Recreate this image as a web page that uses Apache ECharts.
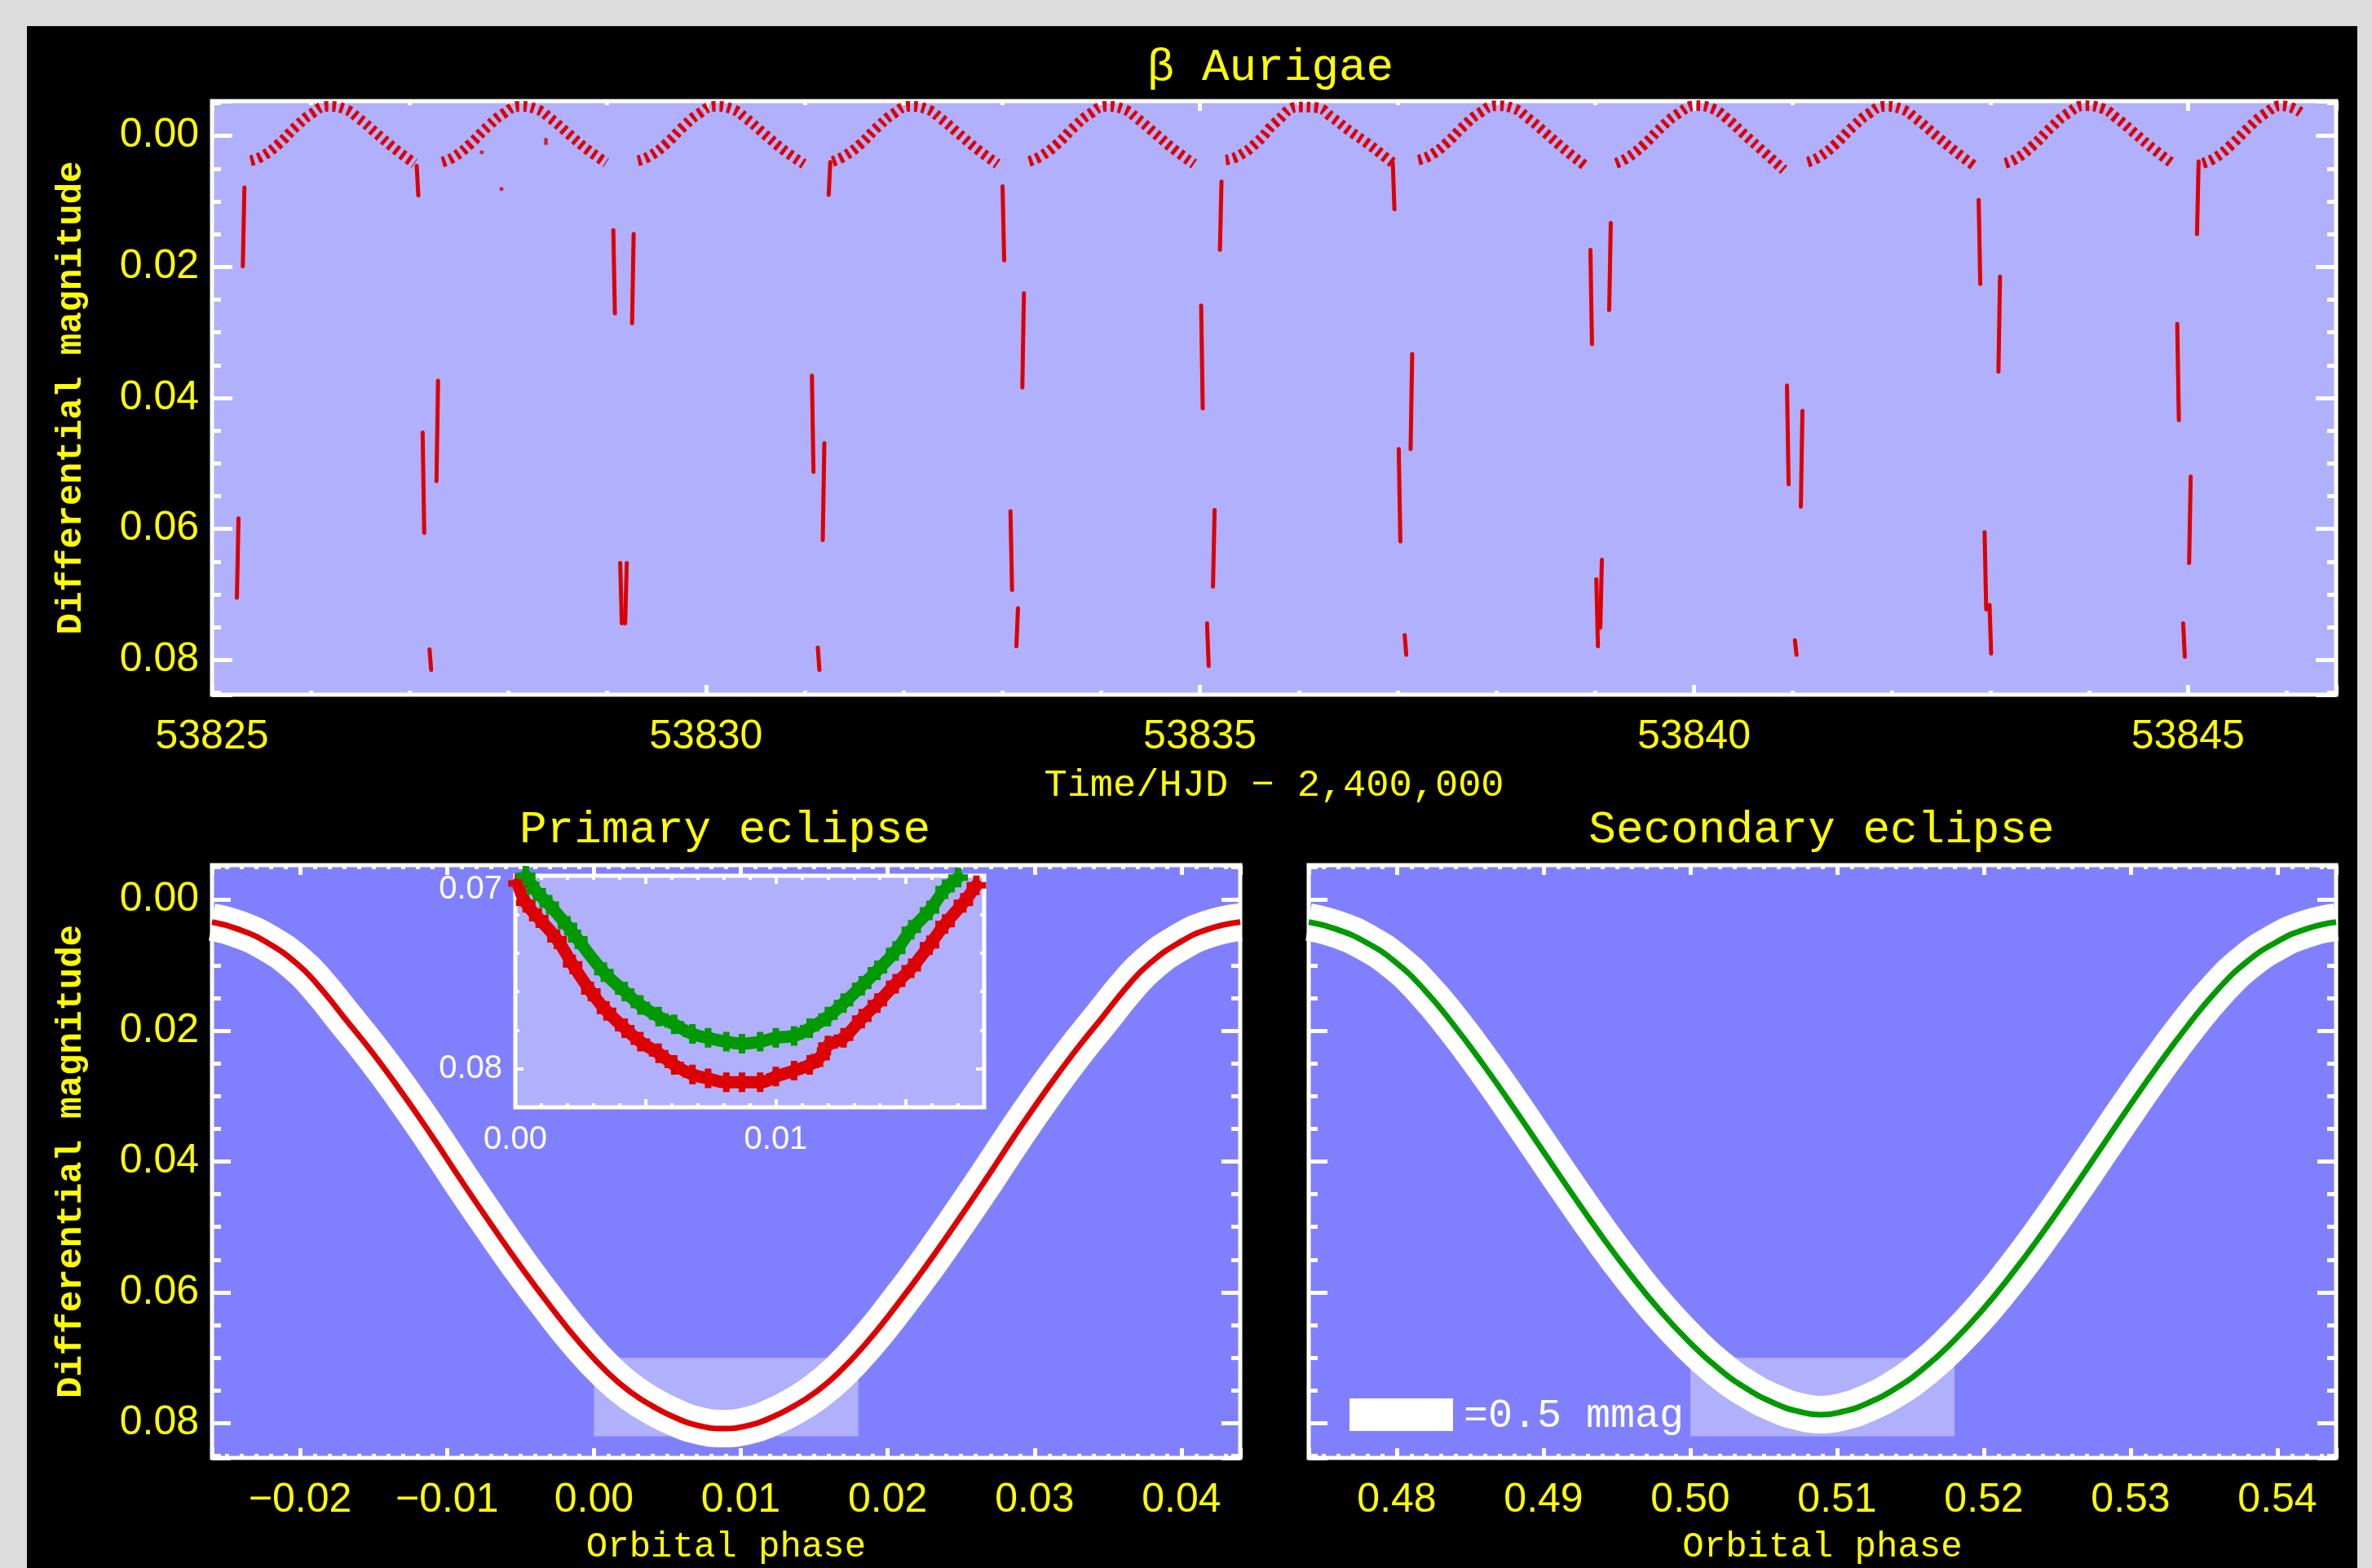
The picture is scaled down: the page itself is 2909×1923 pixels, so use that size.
<!DOCTYPE html>
<html><head><meta charset="utf-8">
<script src="https://cdn.jsdelivr.net/npm/echarts@6.0.0/dist/echarts.min.js"></script>
<style>html,body{margin:0;padding:0;background:#dcdcdc;}#c{width:2909px;height:1923px;}</style>
</head><body><div id="c"></div>
<script>
// ---------------- data ----------------
const topTimeTicks = [53825, 53830, 53835, 53840, 53845];
const topTimeLabels = ['53825', '53830', '53835', '53840', '53845'];
const magTicks = [0, 0.02, 0.04, 0.06, 0.08];
const magLabels = ['0.00', '0.02', '0.04', '0.06', '0.08'];
const primaryPhaseTicks = [-0.02, -0.01, 0, 0.01, 0.02, 0.03, 0.04];
const primaryPhaseLabels = ['\u22120.02', '\u22120.01', '0.00', '0.01', '0.02', '0.03', '0.04'];
const secondaryPhaseTicks = [0.48, 0.49, 0.50, 0.51, 0.52, 0.53, 0.54];
const secondaryPhaseLabels = ['0.48', '0.49', '0.50', '0.51', '0.52', '0.53', '0.54'];
const insetPhaseTicks = [0, 0.01];
const insetPhaseLabels = ['0.00', '0.01'];
const insetMagTicks = [0.07, 0.08];
const insetMagLabels = ['0.07', '0.08'];

// out-of-eclipse stretches of the time series [HJD-2400000, mag]
const arc1 = [[53825.39,0.0038],[53825.51,0.0031],[53825.67,0.0013],[53825.85,-0.0014],[53826.01,-0.0034],[53826.17,-0.0045],[53826.34,-0.0041],[53826.49,-0.0026],[53826.67,-0.0003],[53826.86,0.0021],[53827.05,0.0042]];
const arc2 = [[53827.33,0.0040],[53827.45,0.0032],[53827.61,0.0013],[53827.79,-0.0014],[53827.95,-0.0034],[53828.11,-0.0045],[53828.28,-0.0041],[53828.43,-0.0026],[53828.61,-0.0003],[53828.80,0.0021],[53828.99,0.0041]];
const arc3 = [[53829.31,0.0038],[53829.43,0.0031],[53829.59,0.0013],[53829.77,-0.0014],[53829.93,-0.0034],[53830.09,-0.0045],[53830.26,-0.0041],[53830.41,-0.0026],[53830.59,-0.0003],[53830.78,0.0021],[53830.99,0.0043]];
const arc4 = [[53831.28,0.0039],[53831.40,0.0031],[53831.56,0.0013],[53831.74,-0.0014],[53831.90,-0.0034],[53832.06,-0.0045],[53832.23,-0.0041],[53832.38,-0.0026],[53832.56,-0.0003],[53832.75,0.0021],[53832.95,0.0043]];
const arc5 = [[53833.27,0.0039],[53833.39,0.0031],[53833.55,0.0013],[53833.73,-0.0014],[53833.89,-0.0034],[53834.05,-0.0045],[53834.22,-0.0041],[53834.37,-0.0026],[53834.55,-0.0003],[53834.74,0.0021],[53834.94,0.0043]];
const arc6 = [[53835.26,0.0037],[53835.40,0.0030],[53835.59,0.0008],[53835.77,-0.0021],[53836.00,-0.0044],[53836.18,-0.0043],[53836.33,-0.0029],[53836.51,-0.0008],[53836.70,0.0012],[53836.88,0.0033],[53836.95,0.0041]];
const arc7 = [[53837.21,0.0037],[53837.33,0.0030],[53837.49,0.0012],[53837.67,-0.0015],[53837.83,-0.0035],[53838.00,-0.0046],[53838.17,-0.0042],[53838.32,-0.0027],[53838.50,-0.0004],[53838.70,0.0022],[53838.90,0.0046]];
const arc8 = [[53839.21,0.0042],[53839.33,0.0033],[53839.49,0.0014],[53839.67,-0.0013],[53839.84,-0.0034],[53840.02,-0.0046],[53840.18,-0.0042],[53840.33,-0.0027],[53840.51,-0.0002],[53840.71,0.0025],[53840.91,0.0052]];
const arc9 = [[53841.15,0.0040],[53841.27,0.0032],[53841.43,0.0013],[53841.61,-0.0014],[53841.77,-0.0034],[53841.93,-0.0045],[53842.10,-0.0041],[53842.25,-0.0026],[53842.43,-0.0003],[53842.63,0.0022],[53842.84,0.0046]];
const arc10 = [[53843.15,0.0042],[53843.27,0.0034],[53843.43,0.0015],[53843.61,-0.0012],[53843.78,-0.0034],[53843.96,-0.0046],[53844.13,-0.0042],[53844.28,-0.0027],[53844.46,-0.0004],[53844.65,0.0020],[53844.84,0.0042]];
const arc11 = [[53845.15,0.0042],[53845.27,0.0034],[53845.43,0.0015],[53845.61,-0.0012],[53845.78,-0.0034],[53845.95,-0.0046],[53846.14,-0.0036]];
const quietArcs = [arc1, arc2, arc3, arc4, arc5, arc6, arc7, arc8, arc9, arc10, arc11];

// in-eclipse orbit chunks [t start, mag start, t end, mag end]
const eclipseStreaks = [
  [53825.252,0.0705,53825.268,0.0584],[53825.312,0.0199,53825.328,0.0079],
  [53827.072,0.0046,53827.088,0.0091],[53827.132,0.0453,53827.148,0.0606],[53827.202,0.0784,53827.218,0.0815],[53827.272,0.0527,53827.288,0.0374],
  [53829.062,0.0144,53829.078,0.0271],[53829.132,0.0652,53829.148,0.0744],[53829.182,0.0744,53829.198,0.0652],[53829.252,0.0286,53829.268,0.0150],
  [53831.072,0.0366,53831.088,0.0513],[53831.132,0.0781,53831.148,0.0815],[53831.182,0.0617,53831.198,0.0469],[53831.242,0.0090,53831.258,0.0040],
  [53833.002,0.0077,53833.018,0.0190],[53833.082,0.0573,53833.098,0.0693],[53833.142,0.0779,53833.158,0.0721],[53833.202,0.0384,53833.218,0.0240],
  [53835.012,0.0259,53835.028,0.0416],[53835.072,0.0744,53835.088,0.0809],[53835.132,0.0688,53835.148,0.0571],[53835.202,0.0174,53835.218,0.0070],
  [53836.952,0.0041,53836.968,0.0112],[53837.012,0.0478,53837.028,0.0619],[53837.072,0.0762,53837.088,0.0792],[53837.132,0.0478,53837.148,0.0333],
  [53838.952,0.0174,53838.968,0.0318],[53839.012,0.0677,53839.028,0.0779],[53839.052,0.0751,53839.068,0.0647],[53839.142,0.0266,53839.158,0.0133],
  [53840.942,0.0381,53840.958,0.0532],[53841.022,0.0770,53841.038,0.0792],[53841.082,0.0566,53841.098,0.0420],
  [53842.882,0.0098,53842.898,0.0226],[53842.942,0.0605,53842.958,0.0723],[53842.992,0.0716,53843.008,0.0790],[53843.082,0.0360,53843.098,0.0215],
  [53844.892,0.0287,53844.908,0.0434],[53844.952,0.0744,53844.968,0.0795],[53845.012,0.0652,53845.028,0.0520],[53845.092,0.0150,53845.108,0.0039]
];
const strayPoints = [[53827.73,0.0025],[53827.93,0.0081],[53828.38,0.0006],[53828.38,0.0011]];

// primary eclipse, phase-folded
const primaryPhase = [-0.0260,-0.0242,-0.0222,-0.0202,-0.0188,-0.0170,-0.0150,-0.0130,-0.0110,-0.0090,-0.0070,-0.0050,-0.0030,-0.0010,0.0010,0.0026,0.0040,0.0055,0.0070,0.0088,0.0106,0.0121,0.0136,0.0150,0.0166,0.0186,0.0206,0.0226,0.0246,0.0266,0.0286,0.0306,0.0326,0.0346,0.0364,0.0378,0.0398,0.0418,0.0440];
const primaryMag   = [0.0034,0.0045,0.0066,0.0098,0.0130,0.0180,0.0236,0.0297,0.0362,0.0430,0.0496,0.0560,0.0620,0.0676,0.0724,0.0754,0.0774,0.0791,0.0803,0.0808,0.0803,0.0791,0.0774,0.0754,0.0724,0.0676,0.0620,0.0560,0.0496,0.0430,0.0362,0.0297,0.0236,0.0180,0.0130,0.0098,0.0066,0.0045,0.0034];
// secondary eclipse, phase-folded
const secondaryPhase = [0.4740,0.4759,0.4779,0.4799,0.4819,0.4839,0.4859,0.4879,0.4899,0.4919,0.4939,0.4959,0.4979,0.4999,0.5019,0.5039,0.5059,0.5074,0.5089,0.5104,0.5119,0.5139,0.5159,0.5179,0.5199,0.5219,0.5239,0.5259,0.5279,0.5299,0.5319,0.5339,0.5359,0.5379,0.5399,0.5419,0.5440];
const secondaryMag   = [0.0034,0.0045,0.0065,0.0095,0.0138,0.0192,0.0252,0.0316,0.0382,0.0448,0.0512,0.0572,0.0627,0.0675,0.0716,0.0748,0.0771,0.0782,0.0787,0.0782,0.0771,0.0748,0.0716,0.0675,0.0627,0.0572,0.0512,0.0448,0.0382,0.0316,0.0252,0.0192,0.0138,0.0095,0.0065,0.0045,0.0034];
// zoomed inset: both eclipse bottoms (secondary shifted by -0.5 in phase)
const insetPrimaryPhase = [0.0001,0.0004,0.0009,0.0016,0.0022,0.0029,0.0035,0.0042,0.0048,0.0055,0.0061,0.0068,0.0074,0.0081,0.0087,0.0094,0.0100,0.0107,0.0113,0.0117,0.0120,0.0126,0.0133,0.0139,0.0146,0.0152,0.0159,0.0165,0.0172,0.0177];
const insetPrimaryMag   = [0.0704,0.0714,0.0722,0.0733,0.0746,0.0760,0.0770,0.0779,0.0786,0.0792,0.0798,0.0803,0.0805,0.0807,0.0807,0.0807,0.0804,0.0801,0.0798,0.0794,0.0788,0.0784,0.0774,0.0766,0.0756,0.0748,0.0736,0.0725,0.0714,0.0705];
const insetSecondaryPhase = [0.0004,0.0008,0.0013,0.0020,0.0024,0.0034,0.0042,0.0048,0.0055,0.0061,0.0068,0.0074,0.0081,0.0087,0.0094,0.0100,0.0107,0.0113,0.0120,0.0126,0.0133,0.0139,0.0146,0.0152,0.0159,0.0165,0.0170];
const insetSecondaryMag   = [0.0700,0.0708,0.0715,0.0726,0.0733,0.0750,0.0760,0.0767,0.0773,0.0777,0.0782,0.0784,0.0786,0.0787,0.0786,0.0784,0.0783,0.0779,0.0773,0.0766,0.0757,0.0749,0.0739,0.0728,0.0718,0.0707,0.0701];
// zoom windows [phase0, mag0, phase1, mag1]
const zoomBoxPrimary = [0.000, 0.070, 0.018, 0.082];
const zoomBoxSecondary = [0.500, 0.070, 0.518, 0.082];

// ---------------- styling ----------------
const RED = '#dd0000', GREEN = '#009a00', YELLOW = '#ffff00', WHITE = '#ffffff';
const LIGHT = '#b0b0fc', MID = '#8080ff', OUTER = '#dcdcdc';
const TICKFONT = 'Liberation Sans', TEXTFONT = 'Liberation Mono';

function zip(a, b) { return a.map((v, i) => [v, b[i]]); }
function labeler(ticks, labels, richKey) {
  return v => {
    for (let i = 0; i < ticks.length; i++) {
      if (Math.abs(v - ticks[i]) < 1e-7) {
        return (richKey && richKey[i]) ? '{' + richKey[i] + '|' + labels[i] + '}' : labels[i];
      }
    }
    return '';
  };
}

const grid = [
  {left: 260, top: 124, width: 2605, height: 728, show: true, backgroundColor: LIGHT, borderColor: WHITE, borderWidth: 5},
  {left: 260, top: 1061, width: 1261, height: 727, show: true, backgroundColor: MID, borderColor: WHITE, borderWidth: 5},
  {left: 1605, top: 1061, width: 1260, height: 727, show: true, backgroundColor: MID, borderColor: WHITE, borderWidth: 5},
  {left: 632, top: 1074, width: 575, height: 284, show: true, backgroundColor: LIGHT, borderColor: WHITE, borderWidth: 5}
];

const xAxis = [], yAxis = [];
function addAxes(list, gridIndex, positions, spec) {
  const first = list.length;
  positions.forEach((pos, k) => {
    const base = {type: 'value', gridIndex: gridIndex, position: pos, offset: 0, min: spec.min, max: spec.max,
      inverse: !!spec.inverse, axisLine: {show: false, onZero: false}, splitLine: {show: false},
      axisPointer: {show: false}, silent: true};
    const major = Object.assign({}, base, spec.major, {
      axisTick: {show: true, inside: true, length: spec.majorLen, lineStyle: {color: WHITE, width: spec.tw || 5}},
      axisLabel: {show: false}});
    if (k === 0 && spec.label) major.axisLabel = spec.label;
    if (k === 0 && spec.name) Object.assign(major, spec.name);
    list.push(major);
    list.push(Object.assign({}, base, spec.minor, {
      axisTick: {show: true, inside: true, length: spec.minorLen, lineStyle: {color: WHITE, width: spec.tw || 5}},
      axisLabel: {show: false}}));
  });
  return first;
}
function tickLabel(ticks, labels, extra) {
  return Object.assign({show: true, color: YELLOW, fontFamily: TICKFONT, fontSize: 50, margin: 27,
    showMinLabel: true, showMaxLabel: true, formatter: labeler(ticks, labels)}, extra || {});
}
const magName = {name: 'Differential magnitude', nameLocation: 'middle', nameGap: 150, nameRotate: 90,
  nameTextStyle: {color: YELLOW, fontFamily: TEXTFONT, fontSize: 44, fontWeight: 'bold'}};
const phaseName = {name: 'Orbital phase', nameLocation: 'middle', nameGap: 87,
  nameTextStyle: {color: YELLOW, fontFamily: TEXTFONT, fontSize: 44}};

// grid 0: time series
const gx0 = addAxes(xAxis, 0, ['bottom', 'top'], {min: 53825, max: 53846.5, major: {interval: 5}, minor: {interval: 1},
  majorLen: 12, minorLen: 5, label: tickLabel(topTimeTicks, topTimeLabels),
  name: {name: 'Time/HJD \u2212 2,400,000', nameLocation: 'middle', nameGap: 88,
    nameTextStyle: {color: YELLOW, fontFamily: TEXTFONT, fontSize: 47}}});
const gy0 = addAxes(yAxis, 0, ['left', 'right'], {min: -0.0053, max: 0.0853, inverse: true,
  major: {splitNumber: 4}, minor: {splitNumber: 18}, majorLen: 25, minorLen: 11,
  label: tickLabel(magTicks, magLabels, {margin: 16}), name: magName});
// grid 1: primary eclipse
const gx1 = addAxes(xAxis, 1, ['bottom', 'top'], {min: -0.026, max: 0.044, major: {splitNumber: 7}, minor: {splitNumber: 70},
  majorLen: 12, minorLen: 5, label: tickLabel(primaryPhaseTicks, primaryPhaseLabels), name: phaseName});
const gy1 = addAxes(yAxis, 1, ['left', 'right'], {min: -0.0053, max: 0.0853, inverse: true,
  major: {splitNumber: 4}, minor: {splitNumber: 18}, majorLen: 23, minorLen: 11,
  label: tickLabel(magTicks, magLabels, {margin: 16}), name: magName});
// grid 2: secondary eclipse
const gx2 = addAxes(xAxis, 2, ['bottom', 'top'], {min: 0.474, max: 0.544, major: {splitNumber: 7}, minor: {splitNumber: 70},
  majorLen: 12, minorLen: 5, label: tickLabel(secondaryPhaseTicks, secondaryPhaseLabels), name: phaseName});
const gy2 = addAxes(yAxis, 2, ['left', 'right'], {min: -0.0053, max: 0.0853, inverse: true,
  major: {splitNumber: 4}, minor: {splitNumber: 18}, majorLen: 23, minorLen: 11});
// grid 3: inset
const gx3 = addAxes(xAxis, 3, ['bottom', 'top'], {min: 0, max: 0.018, major: {interval: 0.005}, minor: {interval: 0.001},
  majorLen: 10, minorLen: 5, tw: 4,
  label: {show: true, color: WHITE, fontFamily: TICKFONT, fontSize: 40, margin: 20, showMinLabel: true, showMaxLabel: true,
    formatter: labeler(insetPhaseTicks, insetPhaseLabels)}});
const gy3 = addAxes(yAxis, 3, ['left', 'right'], {min: 0.07, max: 0.082, inverse: true, major: {interval: 0.01}, minor: {interval: 0.002},
  majorLen: 10, minorLen: 5, tw: 4,
  label: {show: true, color: WHITE, fontFamily: TICKFONT, fontSize: 40, margin: 16, showMinLabel: true, showMaxLabel: true,
    formatter: labeler(insetMagTicks, insetMagLabels, ['dn', null]),
    rich: {dn: {color: WHITE, fontFamily: TICKFONT, fontSize: 40, padding: [34, 0, 0, 0]}}}});

const series = [];
function on(gx, gy, obj) { return Object.assign({xAxisIndex: gx, yAxisIndex: gy, animation: false, silent: true}, obj); }

// time series: out-of-eclipse chunks (dashes mimic the per-orbit clumps)
quietArcs.forEach(arc => series.push(on(gx0, gy0, {type: 'line', data: arc, smooth: 0.5, symbol: 'none', z: 3,
  lineStyle: {color: RED, width: 13, type: [4.5, 5], cap: 'butt'}})));
series.push(on(gx0, gy0, {type: 'custom', data: eclipseStreaks, z: 3,
  dimensions: ['t1', 'm1', 't2', 'm2'], encode: {x: [0, 2], y: [1, 3]},
  renderItem: (p, api) => {
    const a = api.coord([api.value(0), api.value(1)]);
    const b = api.coord([api.value(2), api.value(3)]);
    return {type: 'line', shape: {x1: a[0], y1: a[1], x2: b[0], y2: b[1]}, style: {stroke: RED, lineWidth: 5, lineCap: 'round'}};
  }}));
series.push(on(gx0, gy0, {type: 'scatter', data: strayPoints, symbol: 'circle', symbolSize: 5, itemStyle: {color: RED}, z: 3}));

function boxSeries(gx, gy, box) {
  return on(gx, gy, {type: 'custom', data: [box], z: 1,
    renderItem: (p, api) => {
      const a = api.coord([api.value(0), api.value(1)]);
      const b = api.coord([api.value(2), api.value(3)]);
      return {type: 'rect', shape: {x: Math.min(a[0], b[0]), y: Math.min(a[1], b[1]),
        width: Math.abs(b[0] - a[0]), height: Math.abs(b[1] - a[1])}, style: {fill: LIGHT}};
    }});
}
function bandSeries(gx, gy, data) {
  return on(gx, gy, {type: 'line', data: data, smooth: true, symbol: 'none', z: 2,
    lineStyle: {color: WHITE, width: 46, cap: 'butt', join: 'round'}});
}
function curveSeries(gx, gy, data, color, w) {
  return on(gx, gy, {type: 'line', data: data, smooth: true, symbol: 'none', z: 3,
    lineStyle: {color: color, width: w, cap: 'butt', join: 'round'}});
}
// primary eclipse
series.push(boxSeries(gx1, gy1, zoomBoxPrimary));
series.push(bandSeries(gx1, gy1, zip(primaryPhase, primaryMag)));
series.push(curveSeries(gx1, gy1, zip(primaryPhase, primaryMag), RED, 7));
// secondary eclipse
series.push(boxSeries(gx2, gy2, zoomBoxSecondary));
series.push(bandSeries(gx2, gy2, zip(secondaryPhase, secondaryMag)));
series.push(curveSeries(gx2, gy2, zip(secondaryPhase, secondaryMag), GREEN, 7));
// inset
const PLUS = 'path://M-1,-3H1V-1H3V1H1V3H-1V1H-3V-1H-1Z';
[[insetPrimaryPhase, insetPrimaryMag, RED], [insetSecondaryPhase, insetSecondaryMag, GREEN]].forEach(s => {
  series.push(on(gx3, gy3, {type: 'line', data: zip(s[0], s[1]), smooth: true, z: 3,
    symbol: PLUS, symbolSize: 24, showAllSymbol: true, itemStyle: {color: s[2]},
    lineStyle: {color: s[2], width: 15, cap: 'round', join: 'round'}}));
});

const option = {
  backgroundColor: '#000000',
  animation: false,
  grid: grid, xAxis: xAxis, yAxis: yAxis, series: series,
  graphic: [
    {type: 'rect', shape: {x: 0, y: 0, width: 2909, height: 32}, style: {fill: OUTER}, silent: true, z: 100},
    {type: 'rect', shape: {x: 0, y: 0, width: 33, height: 1923}, style: {fill: OUTER}, silent: true, z: 100},
    {type: 'rect', shape: {x: 2891, y: 0, width: 18, height: 1923}, style: {fill: OUTER}, silent: true, z: 100},
    {type: 'text', x: 1558, y: 83, silent: true, z: 100,
      style: {text: '\u03b2 Aurigae', fill: YELLOW, fontFamily: TEXTFONT, fontSize: 56, align: 'center', verticalAlign: 'middle'}},
    {type: 'text', x: 889, y: 1018, silent: true, z: 100,
      style: {text: 'Primary eclipse', fill: YELLOW, fontFamily: TEXTFONT, fontSize: 56, align: 'center', verticalAlign: 'middle'}},
    {type: 'text', x: 2234, y: 1018, silent: true, z: 100,
      style: {text: 'Secondary eclipse', fill: YELLOW, fontFamily: TEXTFONT, fontSize: 56, align: 'center', verticalAlign: 'middle'}},
    {type: 'rect', shape: {x: 1655, y: 1715, width: 127, height: 40}, style: {fill: WHITE}, silent: true, z: 100},
    {type: 'text', x: 1795, y: 1737, silent: true, z: 100,
      style: {text: '=0.5 mmag', fill: WHITE, fontFamily: TEXTFONT, fontSize: 50, align: 'left', verticalAlign: 'middle'}}
  ]
};
const chart = echarts.init(document.getElementById('c'), null, {renderer: 'canvas', width: 2909, height: 1923});
chart.setOption(option);
</script></body></html>
